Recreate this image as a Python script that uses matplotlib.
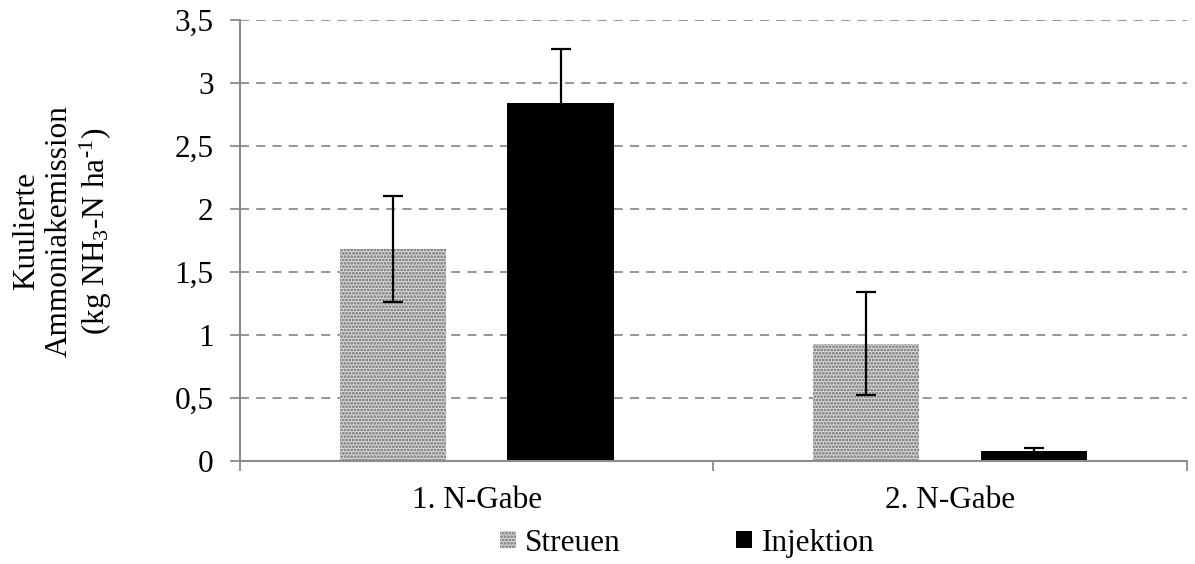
import numpy as np
import matplotlib
matplotlib.use('Agg')
import matplotlib.pyplot as plt
from matplotlib.ticker import FuncFormatter, FixedLocator

# Values
categories = ['1. N-Gabe', '2. N-Gabe']
streuen = [1.68, 0.93]
streuen_err = [0.42, 0.41]
injektion = [2.84, 0.08]
injektion_err = [0.43, 0.02]

plt.rcParams['font.family'] = ['Liberation Serif', 'DejaVu Serif']
plt.rcParams['hatch.linewidth'] = 1.3
plt.rcParams['mathtext.fontset'] = 'custom'
plt.rcParams['mathtext.rm'] = 'Liberation Serif'
plt.rcParams['mathtext.it'] = 'Liberation Serif'

fs = 22.5

fig = plt.figure(figsize=(11.95, 5.64), dpi=100)
ax = fig.add_axes([0.2008, 0.1826, 0.7925, 0.7819])

x = np.arange(len(categories))
w = 0.224
off = 0.177
ekw = dict(ecolor='black', elinewidth=1.6, capsize=7, capthick=1.6)

ax.bar(x - off, streuen, w, yerr=streuen_err, color='#dadada', edgecolor='#666666',
       hatch='.....', linewidth=0, label='Streuen', error_kw=ekw, zorder=2)
ax.bar(x + off, injektion, w, yerr=injektion_err, color='black', edgecolor='black',
       linewidth=0, label='Injektion', error_kw=ekw, zorder=2)

ax.set_xlim(-0.5, 1.5)
ax.set_ylim(0, 3.5)
ax.set_yticks(np.arange(0, 3.51, 0.5))
ax.yaxis.set_major_formatter(FuncFormatter(lambda v, p: ('%g' % v).replace('.', ',')))
ax.set_xticks(x)
ax.set_xticklabels(categories)
ax.xaxis.set_minor_locator(FixedLocator([-0.5, 0.5, 1.5]))

ax.yaxis.grid(True, linestyle=(0, (5, 4)), color='#8c8c8c', linewidth=1.3, zorder=0)
ax.set_axisbelow(True)

for s in ['top', 'right']:
    ax.spines[s].set_visible(False)
for s in ['left', 'bottom']:
    ax.spines[s].set_color('#8c8c8c')
    ax.spines[s].set_linewidth(1.5)

ax.tick_params(axis='y', labelsize=fs, length=7, width=1.3, color='#8c8c8c', pad=12)
ax.tick_params(axis='x', which='major', labelsize=fs, length=0, pad=18)
ax.tick_params(axis='x', which='minor', length=7, width=1.3, color='#8c8c8c')

fig.text(0.053, 0.59, 'Kuulierte\nAmmoniakemission\n(kg NH$_3$-N ha$^{\u2010 1}$)',
         rotation=90, ha='center', va='center', fontsize=fs, linespacing=1.15)

ax.legend(loc='center', bbox_to_anchor=(0.575, 0.037), bbox_transform=fig.transFigure,
          ncol=2, frameon=False, fontsize=fs, handlelength=0.5, handleheight=0.5,
          handletextpad=0.3, columnspacing=3.7)

fig.savefig('out.png', dpi=100)
